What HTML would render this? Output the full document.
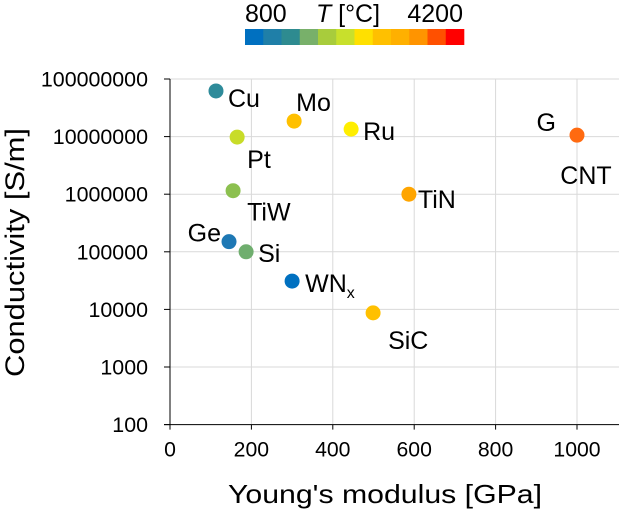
<!DOCTYPE html>
<html><head><meta charset="utf-8"><style>
body{margin:0;background:#fff;font-family:"Liberation Sans",Arial,sans-serif}
</style></head><body>
<svg id="chart" width="619" height="516" viewBox="0 0 619 516" style="display:block">
<g id="colorbar"></g>
<text x="245" y="22" font-size="25">800</text>
<text x="316" y="22" font-size="25" textLength="64" lengthAdjust="spacingAndGlyphs"><tspan font-style="italic">T</tspan> [°C]</text>
<text x="463" y="22" font-size="25" text-anchor="end">4200</text>
<g id="grid"></g>
<g id="axes"></g>
<g id="points"></g>
<text x="385" y="503" font-size="26" text-anchor="middle" textLength="314" lengthAdjust="spacingAndGlyphs">Young's modulus [GPa]</text>
<text transform="translate(24,252.5) rotate(-90)" font-size="27" text-anchor="middle" textLength="249" lengthAdjust="spacingAndGlyphs">Conductivity [S/m]</text>
</svg>
<script>
const names=["Cu","Mo","Ru","G","Pt","TiW","TiN","Ge","Si","WN","SiC"];
const modulus=[113,305,445,1000,165,155,587,145,187,300,499];
const conductivity=[6.2e7,1.86e7,1.35e7,1.06e7,9.8e6,1.15e6,1.0e6,1.5e5,1.0e5,3.1e4,8.7e3];
const colors=["#2e8b9a","#ffc000","#ffee00","#ff6a10","#c8dc28","#8cc04f","#ffa500","#1e78b4","#6fae6e","#0070c0","#ffc000"];
const xTicks=[0,200,400,600,800,1000];
const yTicks=[100,1000,10000,100000,1000000,10000000,100000000];
const cbColors=["#0070c0","#1f7fa8","#2e8b90","#78b06a","#a8cc3c","#c8e02c","#ffe000","#ffc000","#ffb000","#ff9400","#ff5000","#ff0000"];
const NS="http://www.w3.org/2000/svg";
const X0=170,XS=0.407,YB=424.6,DEC=57.6;
const xs=v=>X0+v*XS, ys=v=>YB-(Math.log10(v)-2)*DEC;
function mk(t,a,p){const e=document.createElementNS(NS,t);for(const k in a)e.setAttribute(k,a[k]);p.appendChild(e);return e;}
const cb=document.getElementById('colorbar'),cw=219/cbColors.length;
cbColors.forEach((c,i)=>{const r=mk('rect',{x:245+i*cw,y:29,width:cw+0.3,height:16,fill:c},cb);

});
const g=document.getElementById('grid'),ax=document.getElementById('axes');
xTicks.forEach(v=>{if(v>0){const l=mk('line',{x1:xs(v),x2:xs(v),y1:79,y2:YB,stroke:'#d9d9d9'},g);

}
mk('line',{x1:xs(v),x2:xs(v),y1:YB,y2:YB+5,stroke:'#000'},ax);
const s=String(v);
const t=mk('text',{x:xs(v),y:YB+32,'font-size':21,'text-anchor':'middle',textLength:s.length*11.8,lengthAdjust:'spacingAndGlyphs'},ax);t.textContent=s;

});
yTicks.forEach(v=>{if(v>100){const l=mk('line',{x1:X0,x2:619,y1:ys(v),y2:ys(v),stroke:'#d9d9d9'},g);

}
mk('line',{x1:X0-6,x2:X0,y1:ys(v),y2:ys(v),stroke:'#000'},ax);
const s=String(v);
const t=mk('text',{x:148,y:ys(v)+7.5,'font-size':21,'text-anchor':'end',textLength:s.length*11.9,lengthAdjust:'spacingAndGlyphs'},ax);t.textContent=s;

});
mk('line',{x1:X0,x2:X0,y1:79,y2:YB,stroke:'#000'},ax);
mk('line',{x1:X0-6,x2:619,y1:YB,y2:YB,stroke:'#000'},ax);
const lbl={Cu:[12,16,'start'],Mo:[2,-10,'start'],Ru:[12,11,'start'],G:[-21,-4,'end'],Pt:[10,31,'start'],TiW:[14,30,'start'],TiN:[9,14,'start'],Ge:[-8,0,'end'],Si:[12,10,'start'],WN:[13,11,'start'],SiC:[15,36,'start']};
const P=document.getElementById('points');
names.forEach((n,i)=>{const cx=xs(modulus[i]),cy=ys(conductivity[i]);
const c=mk('circle',{cx:cx,cy:cy,r:7.5,fill:colors[i]},P);


const t=mk('text',{x:cx+lbl[n][0],y:cy+lbl[n][1],'font-size':25,'text-anchor':lbl[n][2]},P);
if(n==='WN'){t.innerHTML='WN<tspan font-size="16" dy="6">x</tspan>';}else t.textContent=n;


if(n==='G'){const t2=mk('text',{x:cx+9,y:cy+49,'font-size':25,'text-anchor':'middle'},P);t2.textContent='CNT';

}});
</script>
</body></html>
